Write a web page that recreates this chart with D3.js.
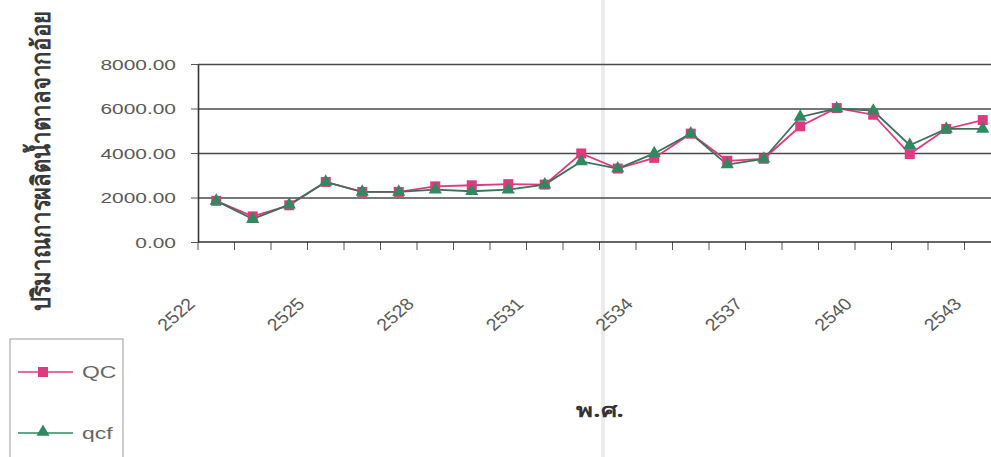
<!DOCTYPE html>
<html>
<head>
<meta charset="utf-8">
<script src="https://cdn.jsdelivr.net/npm/d3@7/dist/d3.min.js"></script>
<style>
  html, body { margin: 0; padding: 0; background: #fff; }
  svg { display: block; }
</style>
</head>
<body>
<svg id="chart" width="991" height="457"></svg>
<script>
// Sugar production from cane (พ.ศ. 2522–2543): observed QC vs fitted qcf
const years = ["2522","2523","2524","2525","2526","2527","2528","2529","2530","2531","2532",
               "2533","2534","2535","2536","2537","2538","2539","2540","2541","2542","2543"];
const qcValues  = [1850, 1150, 1650, 2700, 2250, 2250, 2500, 2550, 2600, 2580, 3980,
                   3300, 3780, 4870, 3650, 3740, 5200, 6020, 5720, 3950, 5080, 5480];
const qcfValues = [1850, 1030, 1680, 2700, 2250, 2250, 2350, 2280, 2350, 2580, 3620,
                   3300, 3980, 4870, 3480, 3740, 5620, 6000, 5900, 4350, 5080, 5080];
const yTicks = [0, 2000, 4000, 6000, 8000];
const xTickLabels = ["2522","2525","2528","2531","2534","2537","2540","2543"];
const seriesNames = ["QC", "qcf"];

const svg = d3.select("#chart");
const W = 991, H = 457;
const plot = { left: 198, top: 64, bottom: 242, step: 36.5 };

const x = d3.scaleBand()
  .domain(years)
  .range([plot.left, plot.left + plot.step * years.length])
  .paddingInner(0).paddingOuter(0);
const y = d3.scaleLinear().domain([0, 8000]).range([plot.bottom, plot.top]);
const cx = d => x(d) + x.bandwidth() / 2;

const pink = "#e0397f", green = "#2f8a5f";
const textGray = "#5a5a5a";
const stretch = 1.35;

// faint scanner fold
svg.append("rect").attr("x", 601).attr("y", 0).attr("width", 4).attr("height", H)
  .attr("fill", "#ececec");

// gridlines
const grid = svg.append("g").attr("transform", `translate(${plot.left},0)`)
  .call(d3.axisLeft(y).tickValues(yTicks.filter(v => v > 0)).tickSize(-(W - plot.left)).tickFormat(""));
grid.select(".domain").remove();
grid.selectAll(".tick line").attr("stroke", "#4a4a4a").attr("stroke-width", 1.4);

// y axis
const yAxis = svg.append("g").attr("transform", `translate(${plot.left},0)`)
  .call(d3.axisLeft(y).tickValues(yTicks).tickSize(7).tickSizeOuter(0).tickFormat(""));
yAxis.select(".domain").attr("stroke", "#333").attr("stroke-width", 1.6);
yAxis.selectAll(".tick line").attr("stroke", "#555");

// y tick labels, slightly wide lettering
svg.append("g").selectAll("text").data(yTicks).join("text")
  .attr("transform", d => `translate(176,${y(d)}) scale(${stretch},1)`)
  .attr("text-anchor", "end").attr("dy", "0.36em")
  .attr("font-family", "Liberation Sans, Arial, sans-serif").attr("font-size", 15.5)
  .attr("fill", textGray)
  .text(d3.format(".2f"));

// x axis: ticks between categories
const xAxis = svg.append("g")
  .attr("transform", `translate(${-x.bandwidth() / 2},${plot.bottom})`)
  .call(d3.axisBottom(x).tickSize(8).tickSizeOuter(0).tickFormat(""));
xAxis.select(".domain").remove();
xAxis.selectAll(".tick line").attr("stroke", "#555");
svg.append("line")
  .attr("x1", plot.left).attr("x2", W)
  .attr("y1", plot.bottom).attr("y2", plot.bottom)
  .attr("stroke", "#333").attr("stroke-width", 1.6);

// rotated year labels
svg.append("g").selectAll("text").data(xTickLabels).join("text")
  .attr("transform", d => `translate(${cx(d) - 20},${plot.bottom + 63}) scale(1.15,1) rotate(-45)`)
  .attr("text-anchor", "end")
  .attr("font-family", "Liberation Sans, Arial, sans-serif").attr("font-size", 17)
  .attr("fill", textGray)
  .text(d => d);

// series lines
const line = d3.line().x((d, i) => cx(years[i])).y(d => y(d));
svg.append("path").datum(qcValues).attr("d", line)
  .attr("fill", "none").attr("stroke", pink).attr("stroke-width", 1.8);
svg.append("path").datum(qcfValues).attr("d", line)
  .attr("fill", "none").attr("stroke", "#3f6f5a").attr("stroke-width", 1.8);

// markers
const sq = 10;
svg.append("g").selectAll("rect").data(qcValues).join("rect")
  .attr("x", (d, i) => cx(years[i]) - sq / 2).attr("y", d => y(d) - sq / 2)
  .attr("width", sq).attr("height", sq).attr("fill", pink);
const tri = d3.symbol().type(d3.symbolTriangle).size(75);
svg.append("g").selectAll("path").data(qcfValues).join("path")
  .attr("transform", (d, i) => `translate(${cx(years[i])},${y(d)})`)
  .attr("d", tri).attr("fill", green);

// axis titles
svg.append("text")
  .attr("transform", `translate(50,161) scale(${stretch},1) rotate(-90)`)
  .attr("text-anchor", "middle")
  .attr("font-family", "Noto Sans, Liberation Sans, sans-serif").attr("font-size", 19)
  .attr("font-weight", "bold").attr("fill", "#3a3a3a")
  .attr("textLength", 300).attr("lengthAdjust", "spacingAndGlyphs")
  .text("ปริมาณการผลิตน้ำตาลจากอ้อย");
svg.append("text")
  .attr("transform", `translate(600,417) scale(${stretch},1)`)
  .attr("text-anchor", "middle")
  .attr("font-family", "Noto Sans, Liberation Sans, sans-serif").attr("font-size", 19)
  .attr("font-weight", "bold").attr("fill", "#333")
  .text("พ.ศ.");

// legend
const legend = svg.append("g");
legend.append("rect").attr("x", 10).attr("y", 339).attr("width", 113).attr("height", 130)
  .attr("fill", "#fff").attr("stroke", "#aaa").attr("stroke-width", 1.2);
const legendRows = [
  { name: seriesNames[0], color: pink, y: 372, mark: "square" },
  { name: seriesNames[1], color: green, y: 433, mark: "triangle" }
];
legendRows.forEach(r => {
  legend.append("line").attr("x1", 18).attr("x2", 73).attr("y1", r.y).attr("y2", r.y)
    .attr("stroke", r.color).attr("stroke-width", 1.6);
  if (r.mark === "square") {
    legend.append("rect").attr("x", 43 - 5).attr("y", r.y - 5).attr("width", 10).attr("height", 10)
      .attr("fill", r.color);
  } else {
    legend.append("path").attr("transform", `translate(43,${r.y - 1})`).attr("d", tri).attr("fill", r.color);
  }
  legend.append("text")
    .attr("transform", `translate(82,${r.y}) scale(${stretch},1)`)
    .attr("dy", "0.36em")
    .attr("font-family", "Liberation Sans, Arial, sans-serif").attr("font-size", 17)
    .attr("fill", "#666")
    .text(r.name);
});
</script>
</body>
</html>
